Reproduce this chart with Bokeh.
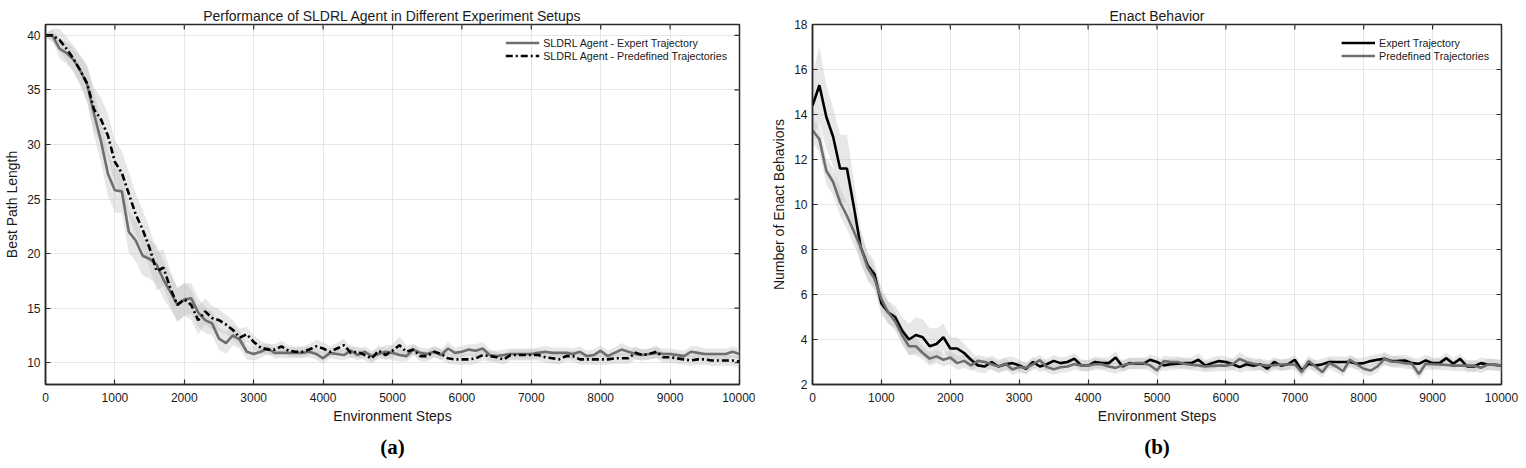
import math

from bokeh.plotting import figure
from bokeh.layouts import row
from bokeh.models import FixedTicker, Legend, LegendItem, Title, Range1d
from bokeh.embed import file_html
from bokeh.resources import INLINE

# ---- data -------------------------------------------------------------
steps = list(range(0, 10001, 100))

# (a) best path length, mean and spread per series
path_expert = [
    40.0, 40.0, 38.8, 38.4, 37.8, 36.8, 35.5, 32.8, 30.3, 27.3,
    25.8, 25.7, 22.0, 21.2, 19.8, 19.5, 19.0, 17.6, 16.5, 15.3,
    15.8, 15.9, 14.6, 13.9, 13.6, 12.2, 11.8, 12.5, 12.1, 11.0,
    10.8, 11.0, 11.3, 10.9, 10.9, 10.9, 10.9, 10.9, 11.0, 10.8,
    10.4, 10.9, 10.8, 10.7, 11.1, 10.7, 11.0, 10.6, 10.8, 11.0,
    10.9, 10.7, 10.6, 11.2, 10.9, 10.8, 11.0, 10.7, 11.3, 10.9,
    11.0, 11.2, 11.1, 11.3, 10.7, 10.6, 10.7, 10.8, 10.8, 10.8,
    10.8, 10.9, 11.0, 10.9, 10.9, 10.9, 10.8, 11.0, 10.6, 10.7,
    11.1, 10.6, 10.9, 11.2, 11.0, 10.8, 10.7, 10.8, 10.9, 10.8,
    10.8, 10.7, 10.6, 11.0, 10.9, 10.8, 10.8, 10.8, 10.8, 11.0,
    10.8]
path_predef = [
    40.0, 40.0, 39.6, 38.8, 37.9, 36.8, 35.6, 33.2, 32.3, 30.8,
    28.4, 27.4, 25.5, 23.6, 22.2, 20.5, 18.4, 18.7, 16.8, 15.3,
    15.8, 15.3, 13.9, 14.7, 14.1, 13.9, 13.5, 13.0, 12.3, 12.6,
    11.9, 11.4, 11.2, 11.2, 11.5, 11.1, 11.0, 11.0, 11.2, 11.5,
    11.3, 11.0, 11.3, 11.6, 10.9, 11.0, 10.7, 10.4, 11.1, 10.7,
    11.1, 11.6, 11.0, 11.2, 10.6, 10.6, 11.0, 10.8, 10.4, 10.3,
    10.3, 10.3, 10.4, 10.7, 10.6, 10.5, 10.3, 10.7, 10.7, 10.7,
    10.7, 10.7, 10.5, 10.4, 10.3, 10.6, 10.6, 10.3, 10.3, 10.3,
    10.3, 10.3, 10.4, 10.4, 10.4, 10.9, 10.7, 10.8, 11.0, 10.5,
    10.5, 10.4, 10.3, 10.2, 10.3, 10.3, 10.2, 10.2, 10.2, 10.2,
    10.1]
path_expert_sd = [
    0.2, 0.5, 0.9, 1.0, 1.1, 1.3, 1.6, 2.0, 2.0, 2.0,
    2.0, 2.0, 1.9, 1.9, 1.8, 1.8, 1.8, 1.7, 1.6, 1.5,
    1.5, 1.4, 1.3, 1.2, 1.1, 1.0, 1.0, 0.9, 0.8, 0.7,
    0.6, 0.6, 0.5, 0.5, 0.5, 0.5, 0.5, 0.5, 0.5, 0.5,
    0.5, 0.5, 0.5, 0.5, 0.6, 0.5, 0.5, 0.5, 0.5, 0.6,
    0.7, 0.6, 0.5, 0.5, 0.5, 0.5, 0.5, 0.5, 0.6, 0.5,
    0.5, 0.5, 0.6, 0.6, 0.5, 0.5, 0.5, 0.5, 0.5, 0.5,
    0.5, 0.5, 0.5, 0.5, 0.5, 0.5, 0.5, 0.5, 0.5, 0.5,
    0.5, 0.5, 0.5, 0.6, 0.5, 0.5, 0.5, 0.5, 0.5, 0.5,
    0.5, 0.5, 0.5, 0.5, 0.6, 0.5, 0.5, 0.5, 0.5, 0.5,
    0.5]
path_predef_sd = [
    0.2, 0.6, 1.0, 1.1, 1.2, 1.4, 1.7, 2.0, 2.0, 2.0,
    2.0, 2.0, 2.0, 1.9, 1.8, 1.8, 1.8, 1.7, 1.6, 1.6,
    1.5, 1.4, 1.3, 1.2, 1.1, 1.0, 0.9, 0.9, 0.8, 0.7,
    0.6, 0.6, 0.5, 0.5, 0.5, 0.5, 0.5, 0.5, 0.5, 0.6,
    0.6, 0.5, 0.5, 0.6, 0.5, 0.5, 0.5, 0.5, 0.5, 0.5,
    0.6, 0.8, 0.6, 0.5, 0.5, 0.5, 0.5, 0.5, 0.5, 0.5,
    0.5, 0.5, 0.5, 0.5, 0.5, 0.5, 0.5, 0.5, 0.5, 0.5,
    0.5, 0.5, 0.5, 0.5, 0.5, 0.5, 0.5, 0.5, 0.5, 0.5,
    0.5, 0.5, 0.5, 0.5, 0.5, 0.6, 0.5, 0.5, 0.6, 0.5,
    0.5, 0.5, 0.5, 0.5, 0.5, 0.5, 0.5, 0.5, 0.5, 0.5,
    0.5]

# (b) number of enact behaviors, mean and spread per series
enact_expert = [
    14.4, 15.3, 13.9, 13.0, 11.6, 11.6, 9.9, 8.1, 7.3, 6.9,
    5.6, 5.2, 5.0, 4.4, 4.0, 4.2, 4.1, 3.7, 3.8, 4.1,
    3.6, 3.6, 3.4, 3.1, 2.85, 2.8, 3.0, 2.8, 2.9, 2.95,
    2.85, 2.7, 3.0, 2.8, 2.9, 3.05, 2.95, 3.0, 3.15, 2.85,
    2.84, 3.0, 2.95, 2.95, 3.2, 2.8, 2.95, 2.92, 2.92, 3.1,
    3.0, 2.85, 2.9, 2.92, 2.95, 2.95, 3.1, 2.84, 2.95, 3.04,
    3.0, 2.9, 2.77, 2.9, 2.84, 2.9, 2.7, 3.0, 2.84, 2.9,
    3.1, 2.62, 2.92, 2.84, 2.9, 3.0, 3.0, 3.0, 3.0, 2.92,
    2.95, 3.04, 3.1, 3.14, 3.04, 3.05, 3.07, 2.95, 2.92, 3.07,
    2.95, 2.95, 3.17, 2.92, 3.14, 2.8, 2.8, 2.95, 2.89, 2.88,
    2.84]
enact_predef = [
    13.3, 12.9, 11.5, 11.0, 10.1, 9.5, 8.8, 8.1, 7.2, 6.7,
    5.8, 5.2, 4.8, 4.2, 3.7, 3.7, 3.4, 3.15, 3.25, 3.1,
    3.2, 2.95, 3.05, 2.85, 3.05, 3.0, 2.9, 2.8, 2.93, 2.67,
    2.78, 2.74, 2.9, 3.08, 2.78, 2.68, 2.77, 2.8, 2.9, 2.85,
    2.84, 2.9, 2.9, 2.8, 2.74, 2.85, 2.92, 2.95, 2.95, 2.85,
    2.62, 3.04, 3.0, 3.0, 2.92, 2.88, 2.85, 2.8, 2.82, 2.84,
    2.84, 2.9, 3.14, 3.0, 2.92, 2.88, 2.84, 2.86, 2.89, 2.89,
    2.89, 2.55, 3.04, 2.8, 2.55, 2.95, 2.8, 2.59, 3.1, 2.9,
    2.7, 2.62, 2.8, 3.14, 3.02, 3.0, 2.95, 2.92, 2.47, 2.92,
    2.9, 2.89, 2.87, 2.84, 2.84, 2.84, 2.84, 2.74, 2.89, 2.87,
    2.84]
enact_expert_sd = [
    1.4, 1.7, 1.4, 1.3, 1.5, 1.5, 1.2, 0.8, 0.6, 0.6,
    0.5, 0.5, 0.5, 0.6, 0.7, 0.8, 0.8, 0.8, 0.7, 0.6,
    0.5, 0.5, 0.4, 0.4, 0.3, 0.3, 0.3, 0.3, 0.3, 0.3,
    0.25, 0.25, 0.25, 0.25, 0.25, 0.25, 0.25, 0.25, 0.25, 0.25,
    0.25, 0.25, 0.25, 0.25, 0.3, 0.25, 0.25, 0.25, 0.25, 0.25,
    0.25, 0.25, 0.25, 0.25, 0.25, 0.25, 0.3, 0.25, 0.25, 0.25,
    0.25, 0.25, 0.25, 0.3, 0.25, 0.25, 0.25, 0.25, 0.25, 0.25,
    0.25, 0.25, 0.25, 0.25, 0.25, 0.25, 0.25, 0.25, 0.25, 0.25,
    0.25, 0.25, 0.25, 0.3, 0.25, 0.25, 0.25, 0.25, 0.25, 0.25,
    0.25, 0.25, 0.25, 0.25, 0.25, 0.25, 0.25, 0.25, 0.25, 0.25,
    0.25]
enact_predef_sd = [
    0.5, 0.6, 0.6, 0.6, 0.6, 0.6, 0.6, 0.6, 0.6, 0.5,
    0.5, 0.5, 0.4, 0.4, 0.4, 0.4, 0.3, 0.3, 0.3, 0.3,
    0.3, 0.3, 0.3, 0.25, 0.25, 0.25, 0.25, 0.25, 0.25, 0.25,
    0.25, 0.25, 0.25, 0.25, 0.25, 0.25, 0.25, 0.25, 0.25, 0.25,
    0.25, 0.25, 0.25, 0.25, 0.25, 0.25, 0.25, 0.25, 0.25, 0.25,
    0.25, 0.25, 0.25, 0.25, 0.25, 0.25, 0.25, 0.25, 0.25, 0.25,
    0.25, 0.25, 0.3, 0.25, 0.25, 0.25, 0.25, 0.25, 0.25, 0.25,
    0.25, 0.25, 0.25, 0.25, 0.25, 0.25, 0.25, 0.25, 0.25, 0.25,
    0.25, 0.25, 0.25, 0.25, 0.25, 0.25, 0.25, 0.25, 0.25, 0.25,
    0.25, 0.25, 0.25, 0.25, 0.25, 0.25, 0.25, 0.25, 0.25, 0.25,
    0.25]

x_ticks = [0, 1000, 2000, 3000, 4000, 5000, 6000, 7000, 8000, 9000, 10000]
path_ticks = [10, 15, 20, 25, 30, 35, 40]
enact_ticks = [2, 4, 6, 8, 10, 12, 14, 16, 18]

# ---- styling -----------------------------------------------------------
SANS = "Liberation Sans"
SERIF = "Liberation Serif"
FRAME = "#2b2b2b"
GRID = "#e6e6e6"
BAND = "#bdbdbd"
GRAY_LINE = "#6e6e6e"
TEXT = "#1a1a1a"


def lower(m, s):
    return [a - b for a, b in zip(m, s)]


def upper(m, s):
    return [a + b for a, b in zip(m, s)]


def panel(title, ylabel, yrange, yticks, caption, caption_offset, width,
          border_left, border_right, border_top, border_bottom):
    p = figure(width=width, height=468, output_backend="svg", toolbar_location=None,
               x_range=Range1d(0, 10000), y_range=Range1d(*yrange),
               min_border_left=border_left, min_border_right=border_right,
               min_border_top=border_top, min_border_bottom=border_bottom)
    p.title.text = title
    p.title.align = "center"
    p.title.text_font = SANS
    p.title.text_font_size = "14px"
    p.title.text_font_style = "normal"
    p.title.text_color = TEXT
    p.title.standoff = 1

    p.outline_line_color = FRAME
    p.outline_line_width = 1.5
    p.background_fill_color = "white"
    p.border_fill_color = "white"

    for ax in (p.xaxis[0], p.yaxis[0]):
        ax.axis_line_color = FRAME
        ax.axis_line_width = 1.5
        ax.major_tick_line_color = FRAME
        ax.major_tick_line_width = 1.2
        ax.major_tick_in = 5
        ax.major_tick_out = 0
        ax.minor_tick_line_color = None
        ax.major_label_text_font = SANS
        ax.major_label_text_font_size = "12px"
        ax.major_label_text_color = TEXT
        ax.axis_label_text_font = SANS
        ax.axis_label_text_font_size = "14px"
        ax.axis_label_text_font_style = "normal"
        ax.axis_label_text_color = TEXT

    p.xaxis[0].ticker = FixedTicker(ticks=x_ticks)
    p.yaxis[0].ticker = FixedTicker(ticks=yticks)
    p.xaxis[0].axis_label = "Environment Steps"
    p.yaxis[0].axis_label = ylabel
    p.xaxis[0].major_label_standoff = 8
    p.xaxis[0].axis_label_standoff = 3
    p.yaxis[0].major_label_standoff = 5
    p.yaxis[0].axis_label_standoff = 4

    p.xgrid.ticker = FixedTicker(ticks=x_ticks)
    p.ygrid.ticker = FixedTicker(ticks=yticks)
    p.xgrid.grid_line_color = GRID
    p.ygrid.grid_line_color = GRID
    p.xgrid.grid_line_width = 1
    p.ygrid.grid_line_width = 1

    # mirrored inward tick marks on the top and right edges of the box
    # (dash markers centred on the edge; the frame clips the outer half)
    p.scatter(x=x_ticks, y=[yrange[1]] * len(x_ticks), marker="dash", size=10,
              angle=math.pi / 2, line_color=FRAME, line_width=1.2)
    p.scatter(x=[10000] * len(yticks), y=yticks, marker="dash", size=10,
              line_color=FRAME, line_width=1.2)

    cap = Title(text=caption, align="center", text_font=SERIF, text_font_size="21px",
                text_font_style="bold", text_color="black", standoff=12,
                offset=caption_offset)
    p.add_layout(cap, "below")
    return p


# ---- (a) -----------------------------------------------------------------
pa = panel("Performance of SLDRL Agent in Different Experiment Setups", "Best Path Length",
           (8, 41), path_ticks, "(a)", 0, 755, 45, 16, 23, 83)
pa.varea(x=steps, y1=lower(path_expert, path_expert_sd), y2=upper(path_expert, path_expert_sd),
         fill_color=BAND, fill_alpha=0.36)
pa.varea(x=steps, y1=lower(path_predef, path_predef_sd), y2=upper(path_predef, path_predef_sd),
         fill_color=BAND, fill_alpha=0.36)
ra1 = pa.line(steps, path_expert, line_color=GRAY_LINE, line_width=2.6)
ra2 = pa.line(steps, path_predef, line_color="black", line_width=2.6, line_dash="7 3 2 3")
leg_a = Legend(items=[LegendItem(label="SLDRL Agent - Expert Trajectory", renderers=[ra1]),
                      LegendItem(label="SLDRL Agent - Predefined Trajectories", renderers=[ra2])],
               location="top_right")
pa.add_layout(leg_a)

# ---- (b) -----------------------------------------------------------------
pb = panel("Enact Behavior", "Number of Enact Behaviors",
           (2, 18), enact_ticks, "(b)", -9, 771, 57, 25, 24, 84)
pb.varea(x=steps, y1=lower(enact_expert, enact_expert_sd), y2=upper(enact_expert, enact_expert_sd),
         fill_color=BAND, fill_alpha=0.36)
pb.varea(x=steps, y1=lower(enact_predef, enact_predef_sd), y2=upper(enact_predef, enact_predef_sd),
         fill_color=BAND, fill_alpha=0.36)
rb1 = pb.line(steps, enact_expert, line_color="black", line_width=2.6)
rb2 = pb.line(steps, enact_predef, line_color=GRAY_LINE, line_width=2.6)
leg_b = Legend(items=[LegendItem(label="Expert Trajectory", renderers=[rb1]),
                      LegendItem(label="Predefined Trajectories", renderers=[rb2])],
               location="top_right")
pb.add_layout(leg_b)

for lg in (leg_a, leg_b):
    lg.border_line_color = None
    lg.background_fill_alpha = 0
    lg.label_text_font = SANS
    lg.label_text_font_size = "10.7px"
    lg.label_text_color = TEXT
    lg.glyph_width = 34
    lg.glyph_height = 13
    lg.label_height = 13
    lg.label_standoff = 4
    lg.spacing = 0
    lg.padding = 0
    lg.margin = 12

layout = row(pa, pb)
open("out.html", "w").write(file_html(layout, INLINE))
